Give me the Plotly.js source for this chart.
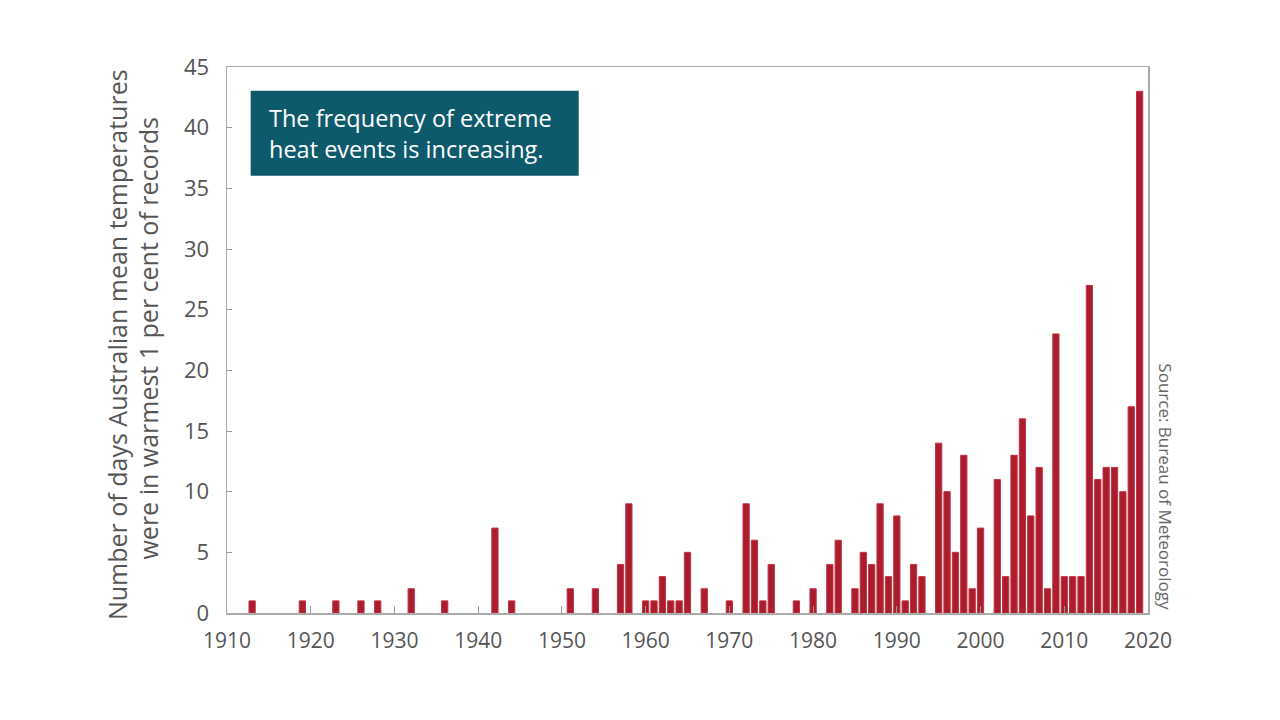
<!DOCTYPE html>
<html>
<head>
<meta charset="utf-8">
<script src="https://cdn.plot.ly/plotly-3.0.1.min.js"></script>
<style>html,body{margin:0;padding:0;background:#fff;}#chart{width:1280px;height:720px;}</style>
</head>
<body>
<div id="chart"></div>
<script>
const years = [1913,1919,1923,1926,1928,1932,1936,1942,1944,1951,1954,1957,1958,1960,1961,1962,1963,1964,1965,1967,1970,1972,1973,1974,1975,1978,1980,1982,1983,1985,1986,1987,1988,1989,1990,1991,1992,1993,1995,1996,1997,1998,1999,2000,2002,2003,2004,2005,2006,2007,2008,2009,2010,2011,2012,2013,2014,2015,2016,2017,2018,2019];
const days  = [1,1,1,1,1,2,1,7,1,2,2,4,9,1,1,3,1,1,5,2,1,9,6,1,4,1,2,4,6,2,5,4,9,3,8,1,4,3,14,10,5,13,2,7,11,3,13,16,8,12,2,23,3,3,3,27,11,12,12,10,17,43];
const xTicks = [1910,1920,1930,1940,1950,1960,1970,1980,1990,2000,2010,2020];
const yTicks = [0,5,10,15,20,25,30,35,40,45];
const yTitleLines = ["Number of days Australian mean temperatures","were in warmest 1 per cent of records"];
const boxText = ["The frequency of extreme","heat events is increasing."];
const sourceText = "Source: Bureau of Meteorology";

const FONT = "'Open Sans', 'Noto Sans', sans-serif";
const trace = {
  type: 'bar', x: years, y: days, width: 0.75,
  marker: {color: '#a91d2d', line: {color: '#c23444', width: 1}},
  hoverinfo: 'x+y'
};
const layout = {
  width: 1280, height: 720,
  paper_bgcolor: '#fff', plot_bgcolor: '#fff',
  margin: {l: 227, r: 132, t: 67, b: 107},
  showlegend: false,
  font: {family: FONT, color: '#555'},
  xaxis: {
    range: [1910, 2020], tickvals: xTicks, ticktext: xTicks.map(String),
    ticks: 'inside', ticklen: 7, tickcolor: '#999', tickwidth: 1,
    showline: true, linecolor: '#aaa', linewidth: 1.5, mirror: true,
    showgrid: false, zeroline: false,
    tickfont: {size: 21, color: '#555', family: FONT}, ticklabelstandoff: 8
  },
  yaxis: {
    range: [0, 45], tickvals: yTicks, ticktext: yTicks.map(String),
    ticks: 'inside', ticklen: 5, tickcolor: '#999', tickwidth: 1,
    showline: true, linecolor: '#aaa', linewidth: 1.5, mirror: true,
    showgrid: false, zeroline: false,
    tickfont: {size: 22, color: '#555', family: FONT}, ticklabelstandoff: 12
  },
  shapes: [{
    type: 'rect', xref: 'paper', yref: 'paper',
    x0: 0.0257, x1: 0.3819, y0: 0.8008, y1: 0.9566,
    fillcolor: '#0e5a6d', line: {width: 0}, layer: 'above'
  }],
  annotations: [
    {xref: 'paper', yref: 'paper', x: -0.1187, y: 0.492, xanchor: 'center', yanchor: 'middle',
     textangle: -90, showarrow: false, text: yTitleLines[0],
     font: {size: 25, color: '#555', family: FONT}},
    {xref: 'paper', yref: 'paper', x: -0.0861, y: 0.504, xanchor: 'center', yanchor: 'middle',
     textangle: -90, showarrow: false, text: yTitleLines[1],
     font: {size: 25, color: '#555', family: FONT}},
    {xref: 'paper', yref: 'paper', x: 0.0431, y: 0.8787, xanchor: 'left', yanchor: 'middle',
     align: 'left', showarrow: false, text: boxText.join('<br>'),
     font: {size: 23.5, color: '#ffffff', family: FONT}},
    {xref: 'paper', yref: 'paper', x: 1.019, y: 0.231, xanchor: 'center', yanchor: 'middle',
     textangle: 90, showarrow: false, text: sourceText,
     font: {size: 17, color: '#666', family: FONT}}
  ]
};
Plotly.newPlot('chart', [trace], layout, {displayModeBar: false, staticPlot: true});
</script>
</body>
</html>
